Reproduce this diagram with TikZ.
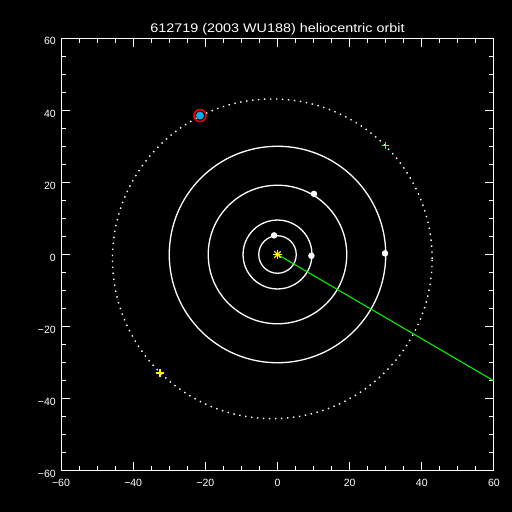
\documentclass[tikz,border=0pt]{standalone}
\usepackage{fontspec}
\setmainfont{Liberation Sans}
\begin{document}
\begin{tikzpicture}[x=1pt,y=1pt,
  axisline/.style={white, line width=1pt},
  orbitline/.style={white, line width=1.3pt},
  planet/.style={circle, fill=white, inner sep=0pt, minimum size=6.5pt},
  lbl/.style={white, font=\fontsize{10.5}{12}\selectfont, inner sep=0pt},
  crossmark/.style={line width=1.5pt}]
\fill[black] (0,0) rectangle (512,-512);
\useasboundingbox (0,0) rectangle (512,-512);
\node[white, anchor=base, inner sep=0pt, font=\fontsize{12.5}{14}\selectfont] (title) at (277.5,-32.3) {\scalebox{1.15}[1]{612719 (2003 WU188) heliocentric orbit}};
\begin{scope}[shift={(277.5,-254.5)}, x=3.608pt, y=3.608pt]
  % frame
  \draw[axisline] (-60,-60) rectangle (60,60);
  \foreach \v in {-60,-40,...,60} {
    \draw[axisline] (\v,-60) -- ++(0,2.5);
    \draw[axisline] (\v,60) -- ++(0,-2.5);
    \draw[axisline] (-60,\v) -- ++(2.5,0);
    \draw[axisline] (60,\v) -- ++(-2.5,0);
  }
  \foreach \v in {-55,-50,...,55} {
    \draw[axisline] (\v,-60) -- ++(0,1.25);
    \draw[axisline] (\v,60) -- ++(0,-1.25);
    \draw[axisline] (-60,\v) -- ++(1.25,0);
    \draw[axisline] (60,\v) -- ++(-1.25,0);
  }
  \foreach \v/\t in {-60/{−60},-40/{−40},-20/{−20},0/{0},20/{20},40/{40},60/{60}} {
    \node[lbl] (xl\v) at (\v,-63.3) {\t};
    \node[lbl, anchor=east] (yl\v) at (-61.4,\v-0.9) {\t};
  }
  % planetary orbits
  \draw[orbitline] (0,0) circle (5.2);
  \draw[orbitline] (0,0) circle (9.55);
  \draw[orbitline] (0,0) circle (19.2);
  \draw[orbitline] (0,0) circle (30.0);
  % asteroid orbit
  \draw[white, line width=1.4pt, dash pattern=on 1.4pt off 4.6pt] (-1.44,-1.19) circle (44.3);
  % green line
  \coordinate (sun) at (0,0);
  \coordinate (lineend) at (60,-35.05);
  \draw[green, line width=1pt] (sun) -- (lineend);
  % planets
  \node[planet] (jup) at (-0.95,5.3) {};
  \node[planet] (sat) at (9.4,-0.35) {};
  \node[planet] (ura) at (10.1,16.8) {};
  \node[planet] (nep) at (29.8,0.3) {};
  % sun star
  \foreach \a in {0,45,90,135} {
    \draw[yellow, line width=1.2pt] (sun) ++(\a:4.5pt) -- ++(\a+180:9pt);
  }
  % asteroid
  \node[circle, fill=cyan, inner sep=0pt, minimum size=8pt] (ast) at (-21.5,38.5) {};
  \node[circle, draw=red, line width=1.5pt, inner sep=0pt, minimum size=12pt] (astring) at (-21.5,38.5) {};
  % markers
  \coordinate (gplus) at (30,30.3);
  \draw[green!70!white, line width=1pt] (gplus) ++(-3.5pt,0) -- ++(7pt,0) (gplus) ++(0,-3.5pt) -- ++(0,7pt);
  \coordinate (yplus) at (-32.6,-32.9);
  \draw[yellow, crossmark] (yplus) ++(-4pt,0) -- ++(8pt,0) (yplus) ++(0,-4pt) -- ++(0,8pt);
\end{scope}
\end{tikzpicture}
\end{document}
